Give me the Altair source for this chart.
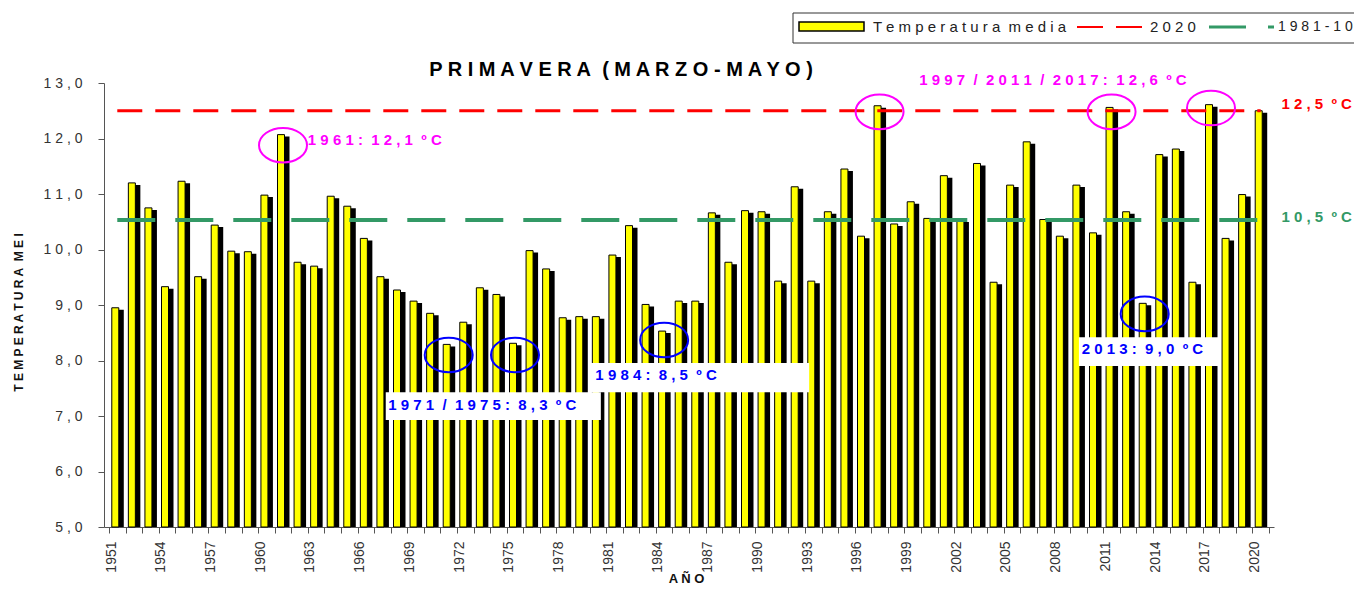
import altair as alt
import pandas as pd

# ---------------- data ----------------
years = list(range(1951, 2021))
temps = [
    8.95, 11.20, 10.75, 9.33, 11.23, 9.51, 10.44, 9.97, 9.96, 10.98,
    12.07, 9.77, 9.70, 10.96, 10.78, 10.20, 9.51, 9.27, 9.07, 8.85,
    8.29, 8.69, 9.31, 9.19, 8.31, 9.98, 9.65, 8.77, 8.79, 8.79,
    9.90, 10.43, 9.01, 8.53, 9.07, 9.07, 10.66, 9.77, 10.70, 10.68,
    9.43, 11.13, 9.43, 10.68, 11.45, 10.24, 12.59, 10.46, 10.86, 10.56,
    11.33, 10.53, 11.55, 9.41, 11.16, 11.94, 10.54, 10.24, 11.16, 10.30,
    12.56, 10.68, 9.03, 11.71, 11.81, 9.41, 12.61, 10.20, 10.99, 12.50,
]
ref_2020 = 12.5
ref_8110 = 10.53

# highlighted years (ellipses)
ell_years = [1961, 1997, 2011, 2017, 1971, 1975, 1984, 2013]
ell_centres = [11.88, 12.48, 12.48, 12.55, 8.10, 8.10, 8.37, 8.84]
ell_kind = ["max", "max", "max", "max", "min", "min", "min", "min"]

# annotation texts (anchored in data coordinates)
ann_text = ["1961: 12,1 ºC", "1997 / 2011 / 2017: 12,6 ºC", "12,5 ºC", "10,5 ºC",
            "1971 / 1975: 8,3 ºC", "1984: 8,5 ºC", "2013: 9,0 ºC"]
ann_x = [1962.5, 1999.4, 2021.25, 2021.25, 1967.35, 1979.85, 2009.2]
ann_y = [11.97, 13.05, 12.62, 10.59, 7.20, 7.74, 8.21]
ann_kind = ["max", "max", "2020", "normal", "min", "min", "min"]

# white label boxes behind the blue annotations
box_x1 = [1967.2, 1979.58, 2009.03]
box_x2 = [1980.18, 1992.75, 2017.59]
box_y1 = [6.93, 7.43, 7.90]
box_y2 = [7.43, 7.955, 8.42]

legend_labels = ["Temperatura media", "2020", "1981-10"]
chart_title = "PRIMAVERA (MARZO-MAYO)"
y_title = "TEMPERATURA MEI"
x_title = "AÑO"


def sp(s):
    """Letter-spaced rendering of a text, like the original chart."""
    return "\u00a0\u00a0".join(" ".join(w) for w in s.split(" "))


df = pd.DataFrame({"year": years, "temp": temps})
ell_df = pd.DataFrame({"year": ell_years, "yc": ell_centres, "kind": ell_kind})
ann_df = pd.DataFrame({"year": ann_x, "temp": ann_y, "kind": ann_kind,
                       "label": [sp(t) for t in ann_text]})
box_df = pd.DataFrame({"year": box_x1, "x2": box_x2, "temp": box_y1, "y2": box_y2})
ref_df = pd.DataFrame({"year": [years[0]], "end": [years[-1]],
                       "r2020": [ref_2020], "r8110": [ref_8110]})
one_df = pd.DataFrame({"k": [0]})

FONT = "Liberation Sans"
xs = alt.Scale(domain=[1950.5, 2020.5], nice=False, zero=False)
ys = alt.Scale(domain=[5, 13], nice=False, zero=False)
kind_scale = alt.Scale(domain=["max", "min", "2020", "normal"],
                       range=["#FF00FF", "#0000FF", "#FF0000", "#339966"])

boundaries = [1950.5 + i for i in range(len(years) + 1)]

x_axis = alt.Axis(
    values=boundaries,
    labelExpr="(datum.value + 0.5 - 1951) % 3 == 0 ? toString(datum.value + 0.5) : ''",
    labelAngle=-90, labelAlign="right", labelBaseline="middle",
    labelOffset=2, labelPadding=8, labelOverlap=False, labelFlush=False,
    labelBound=False, labelFontSize=14, labelColor="#333333", labelFont=FONT,
    tickSize=6, tickColor="#555555", domainColor="#555555", grid=False,
    title=sp(x_title), titleFont=FONT, titleFontSize=13, titleFontWeight="bold",
    titleColor="#111111", titleX=582, titleY=51, titleAlign="center",
    titleBaseline="middle",
)
y_axis = alt.Axis(
    values=[5, 6, 7, 8, 9, 10, 11, 12, 13],
    labelExpr="join(split(replace(format(datum.value, '.1f'), '.', ','), ''), ' ')",
    labelFontSize=14, labelColor="#333333", labelFont=FONT, labelPadding=16,
    tickSize=6, tickColor="#555555", domainColor="#555555", grid=False,
    title=sp(y_title), titleFont=FONT, titleFontSize=12, titleFontWeight="bold",
    titleColor="#111111", titleAngle=270, titleX=-86, titleY=229,
    titleAlign="center", titleBaseline="middle",
)


def X(field):
    return alt.X(f"{field}:Q", scale=xs, axis=x_axis)


def Y(field):
    return alt.Y(f"{field}:Q", scale=ys, axis=y_axis)


shadow = alt.Chart(df).mark_bar(color="black", size=7, xOffset=3, yOffset=2, y2Offset=0).encode(
    x=X("year"), y=Y("temp"), y2=alt.datum(5),
)
bars = alt.Chart(df).mark_bar(fill="#FFFF00", stroke="black", strokeWidth=1, size=7, xOffset=-2).encode(
    x=X("year"), y=Y("temp"), y2=alt.datum(5),
)
green = alt.Chart(ref_df).mark_rule(color="#339966", strokeWidth=4, strokeDash=[38, 20]).encode(
    x=X("year"), x2="end:Q", y=Y("r8110"),
)
red = alt.Chart(ref_df).mark_rule(color="#FF0000", strokeWidth=3, strokeDash=[25, 13]).encode(
    x=X("year"), x2="end:Q", y=Y("r2020"),
)
ELLIPSE = "M -1 0 A 1 0.72 0 1 0 1 0 A 1 0.72 0 1 0 -1 0 Z"
ellipses = alt.Chart(ell_df).mark_point(shape=ELLIPSE, size=2304, filled=False, strokeWidth=2, opacity=1).encode(
    x=X("year"), y=Y("yc"),
    color=alt.Color("kind:N", scale=kind_scale, legend=None),
)
boxes = alt.Chart(box_df).mark_rect(fill="white").encode(
    x=X("year"), x2="x2:Q", y=Y("temp"), y2="y2:Q",
)
texts = alt.Chart(ann_df).mark_text(align="left", baseline="middle", font=FONT,
                                    fontSize=15, fontWeight="bold").encode(
    x=X("year"), y=Y("temp"), text="label:N",
    color=alt.Color("kind:N", scale=kind_scale, legend=None),
)

# ---------------- legend (layout in pixels, above the plot) ----------------
leg_box = alt.Chart(one_df).mark_rect(fill="white", stroke="#333333", strokeWidth=1).encode(
    x=alt.value(689), x2=alt.value(1320), y=alt.value(-70), y2=alt.value(-40))
leg_swatch = alt.Chart(one_df).mark_rect(fill="#FFFF00", stroke="black", strokeWidth=1.5).encode(
    x=alt.value(695), x2=alt.value(760), y=alt.value(-61), y2=alt.value(-52))
leg_red = alt.Chart(one_df).mark_rule(color="#FF0000", strokeWidth=2, strokeDash=[26, 13]).encode(
    x=alt.value(973), x2=alt.value(1038), y=alt.value(-56))
leg_green = alt.Chart(one_df).mark_rule(color="#339966", strokeWidth=3, strokeDash=[37, 22]).encode(
    x=alt.value(1105), x2=alt.value(1170), y=alt.value(-56))
leg_texts = [
    alt.Chart(one_df).mark_text(align="left", baseline="middle", font=FONT, fontSize=fs,
                                color="#222222", text=sp(lbl)).encode(
        x=alt.value(px), y=alt.value(-56))
    for lbl, px, fs in zip(legend_labels, [769, 1046, 1174], [15, 15, 14])
]

title_mark = alt.Chart(one_df).mark_text(
    align="center", baseline="middle", font=FONT, fontSize=20, fontWeight="bold", color="black",
    text=sp(chart_title),
).encode(x=alt.value(517), y=alt.value(-13))

chart = alt.layer(
    shadow, bars, green, red, ellipses, boxes, texts,
    leg_box, leg_swatch, leg_red, leg_green, *leg_texts, title_mark,
).properties(
    width=1170, height=444,
    padding={"left": 96, "top": 75, "right": 80, "bottom": 60},
    autosize=alt.AutoSizeParams(type="none"),
).configure(background="white").configure_view(stroke=None)

chart.save("out.html", embed_options={"renderer": "svg", "actions": False})
